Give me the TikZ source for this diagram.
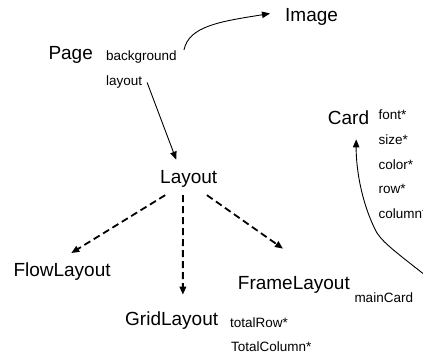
\documentclass[tikz,border=0pt]{standalone}
\usepackage{fontspec}
\setmainfont{Liberation Sans}
\usetikzlibrary{arrows.meta}

\begin{document}
\begin{tikzpicture}[x=1pt,y=-1pt,
  cls/.style={anchor=base west,inner sep=0pt,font=\fontsize{19}{22}\selectfont},
  fld/.style={anchor=base west,inner sep=0pt,font=\fontsize{13.5}{16}\selectfont},
  link/.style={line width=0.9pt,-{Triangle[length=8pt,width=6.5pt]}},
  inherit/.style={line width=1.8pt,dash pattern=on 7pt off 4pt,-{Triangle[length=8pt,width=6.5pt]}}]
  \useasboundingbox (0,0) rectangle (423,358);

  % classes and their fields
  \node[cls] (page) at (48.3,59.3) {Page};
  \node[fld] (bg) at (106,61) {background};
  \node[fld] (lay) at (106,86) {layout};

  \node[cls] (image) at (285,21.5) {Image};

  \node[cls] (card) at (327.7,125) {Card};
  \node[fld] (font) at (378.3,119.3) {font*};
  \node[fld] (size) at (378.3,144.5) {size*};
  \node[fld] (color) at (378.3,169.5) {color*};
  \node[fld] (row) at (378.3,194) {row*};
  \node[fld] (column) at (378.3,218.5) {column*};

  \node[cls] (layoutN) at (160,183.3) {Layout};
  \node[cls] (flow) at (13.3,276.7) {FlowLayout};
  \node[cls] (grid) at (125,325) {GridLayout};
  \node[fld] (totalrow) at (230,327.7) {totalRow*};
  \node[fld] (totalcol) at (231,351.7) {TotalColumn*};
  \node[cls] (frame) at (237.7,289) {FrameLayout};
  \node[fld] (maincard) at (354.3,302.3) {mainCard};

  % mainCard reference enters from beyond the right edge
  \coordinate (cardsrc) at (440,287);

  % associations
  \draw[link] ([shift={(7,-1)}]bg.north east)
    .. controls +(5,-24) and +(-50,8) .. ([shift={(-15,-3.4)}]image.west);
  \draw[link] ([xshift=4.7pt]lay.east) -- ([shift={(-12.5,-10.4)}]layoutN.north);
  \draw[link] (cardsrc) .. controls (400,255) and (385,245) .. (377,233)
    .. controls (362,205) and (356,170) .. ([shift={(7.7,14)}]card.south);

  % subclasses of Layout
  \draw[inherit] ([shift={(-23.5,7.7)}]layoutN.south) -- ([shift={(9.2,-9.7)}]flow.north);
  \draw[inherit] ([shift={(-5.8,7.7)}]layoutN.south) -- ([shift={(11.2,-16.4)}]grid.north);
  \draw[inherit] ([shift={(18.2,7.7)}]layoutN.south) -- ([shift={(-10.9,-27.1)}]frame.north);
\end{tikzpicture}
\end{document}
